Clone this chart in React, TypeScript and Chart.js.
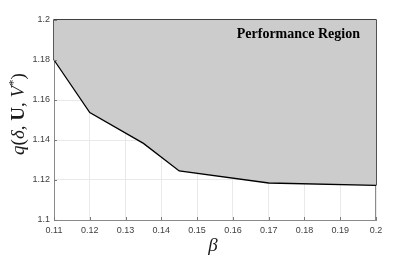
import React, { useEffect, useRef } from "react";
import { Chart, registerables } from "chart.js";

Chart.register(...registerables);

// Boundary of the performance region (beta, q)
const betaValues = [0.11, 0.12, 0.135, 0.145, 0.17, 0.2];
const qValues = [1.18, 1.1537, 1.1383, 1.1245, 1.1185, 1.1173];

const xTickValues = [0.11, 0.12, 0.13, 0.14, 0.15, 0.16, 0.17, 0.18, 0.19, 0.2];
const xTickLabels = ["0.11", "0.12", "0.13", "0.14", "0.15", "0.16", "0.17", "0.18", "0.19", "0.2"];
const yTickValues = [1.1, 1.12, 1.14, 1.16, 1.18, 1.2];
const yTickLabels = ["1.1", "1.12", "1.14", "1.16", "1.18", "1.2"];

const regionLabel = "Performance Region";
const xMin = 0.11, xMax = 0.2, yMin = 1.1, yMax = 1.2;

const decorPlugin = {
  id: "decor",
  beforeDatasetsDraw(chart: any) {
    const ctx = chart.ctx;
    const { left, right, top, bottom } = chart.chartArea;
    ctx.save();
    ctx.strokeStyle = "#8a8a8a";
    ctx.lineWidth = 1;
    ctx.beginPath();
    ctx.moveTo(Math.round(right) - 0.5, bottom);
    ctx.lineTo(Math.round(right) - 0.5, top);
    ctx.stroke();
    ctx.restore();
  },
  afterDraw(chart: any) {
    const ctx = chart.ctx;
    const { left, right, top, bottom } = chart.chartArea;
    const xs = chart.scales.x, ys = chart.scales.y;
    ctx.save();
    // inward ticks
    ctx.strokeStyle = "#7a7a7a";
    ctx.lineWidth = 1;
    ctx.beginPath();
    xTickValues.forEach((v) => {
      const px = Math.round(xs.getPixelForValue(v)) + 0.5;
      ctx.moveTo(px, bottom);
      ctx.lineTo(px, bottom - 3);
    });
    yTickValues.forEach((v) => {
      const py = Math.round(ys.getPixelForValue(v)) + 0.5;
      ctx.moveTo(left, py);
      ctx.lineTo(left + 3, py);
    });
    ctx.stroke();

    // region label
    ctx.fillStyle = "#000";
    ctx.font = "bold 14px 'Liberation Serif', serif";
    ctx.textAlign = "right";
    ctx.textBaseline = "alphabetic";
    ctx.fillText(regionLabel, right - 16, 38);

    // x title
    ctx.fillStyle = "#1a1a1a";
    ctx.font = "italic 19px 'Liberation Serif', serif";
    ctx.textAlign = "center";
    ctx.fillText("\u03B2", (left + right) / 2 - 2, 251);

    // y title with mixed fonts
    const parts: [string, string][] = [
      ["q", "italic 19px 'Liberation Serif', serif"],
      ["(", "19px 'Liberation Serif', serif"],
      ["\u03B4", "italic 19px 'Liberation Serif', serif"],
      [", ", "19px 'Liberation Serif', serif"],
      ["U", "bold 19px 'Liberation Serif', serif"],
      [", ", "19px 'Liberation Serif', serif"],
      ["V", "italic 19px 'Liberation Serif', serif"],
      ["*", "13px 'Liberation Serif', serif"],
      [")", "19px 'Liberation Serif', serif"],
    ];
    let total = 0;
    const widths = parts.map(([t, f]) => {
      ctx.font = f;
      const w = ctx.measureText(t).width;
      total += w;
      return w;
    });
    ctx.translate(24, 114);
    ctx.rotate(-Math.PI / 2);
    ctx.textAlign = "left";
    let xpos = -total / 2;
    parts.forEach(([t, f], i) => {
      ctx.font = f;
      ctx.fillText(t, xpos, t === "*" ? -7 : 0);
      xpos += widths[i];
    });
    ctx.restore();
  },
};

export default function App() {
  const ref = useRef<HTMLCanvasElement | null>(null);
  useEffect(() => {
    if (!ref.current) return;
    const curve = betaValues.map((x, i) => ({ x, y: qValues[i] }));
    const outline = [
      { x: betaValues[0], y: qValues[0] },
      { x: xMin, y: yMax },
      { x: xMax, y: yMax },
      { x: betaValues[betaValues.length - 1], y: qValues[qValues.length - 1] },
    ];
    const chart = new Chart(ref.current, {
      type: "scatter",
      data: {
        datasets: [
          {
            data: curve,
            showLine: true,
            borderColor: "#000",
            borderWidth: 1.3,
            pointRadius: 0,
            backgroundColor: "#cccccc",
            fill: "end",
            clip: 4,
          } as any,
          {
            data: outline,
            showLine: true,
            borderColor: "#000",
            borderWidth: 1.3,
            pointRadius: 0,
            fill: false,
            clip: 4,
          } as any,
        ],
      },
      options: {
        animation: false,
        responsive: false,
        maintainAspectRatio: false,
        layout: { padding: { left: 0, top: 20, right: 39, bottom: 0 } },
        plugins: { legend: { display: false }, tooltip: { enabled: false } },
        scales: {
          x: {
            type: "linear",
            min: xMin,
            max: xMax,
            afterBuildTicks: (s: any) => {
              s.ticks = xTickValues.map((v) => ({ value: v }));
            },
            afterFit: (s: any) => {
              s.height = 38;
            },
            ticks: {
              callback: (_v: any, i: number) => xTickLabels[i],
              color: "#404040",
              font: { family: "'Liberation Sans', Arial, sans-serif", size: 9 },
              maxRotation: 0,
              padding: 5,
            },
            grid: { color: "#e9e9e9", drawTicks: false, lineWidth: 1 },
            border: { color: "#8a8a8a", width: 1 },
          },
          y: {
            type: "linear",
            min: yMin,
            max: yMax,
            afterBuildTicks: (s: any) => {
              s.ticks = yTickValues.map((v) => ({ value: v }));
            },
            afterFit: (s: any) => {
              s.width = 54;
            },
            ticks: {
              callback: (_v: any, i: number) => yTickLabels[i],
              color: "#404040",
              font: { family: "'Liberation Sans', Arial, sans-serif", size: 9 },
              padding: 4,
            },
            grid: { color: "#e9e9e9", drawTicks: false, lineWidth: 1 },
            border: { color: "#8a8a8a", width: 1 },
          },
        },
      },
      plugins: [decorPlugin],
    });
    return () => chart.destroy();
  }, []);
  return (
    <div style={{ position: "absolute", left: 0, top: 0, width: 415, height: 258, background: "#fff" }}>
      <canvas ref={ref} width={415} height={258} style={{ width: 415, height: 258 }} />
    </div>
  );
}
